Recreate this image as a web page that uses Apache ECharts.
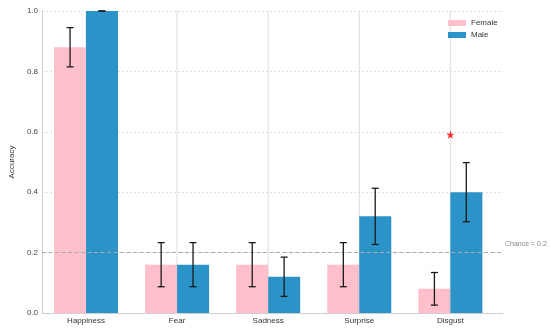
<!DOCTYPE html>
<html>
<head>
<meta charset="utf-8">
<script src="https://cdn.jsdelivr.net/npm/echarts@6/dist/echarts.min.js"></script>
<style>html,body{margin:0;padding:0;background:#fff}#c{width:550px;height:334px}</style>
</head>
<body>
<div id="c"></div>
<script>
const categories = ['Happiness', 'Fear', 'Sadness', 'Surprise', 'Disgust'];
const femaleValues = [0.88, 0.16, 0.16, 0.16, 0.08];
const maleValues = [1.0, 0.16, 0.12, 0.32, 0.40];
const femaleErrors = [0.065, 0.073, 0.073, 0.073, 0.054];
const maleErrors = [0.0, 0.073, 0.065, 0.093, 0.098];
const yTicks = [0.0, 0.2, 0.4, 0.6, 0.8, 1.0];
const chanceLevel = 0.2;
const starMarks = [[4, 0.59]];

const FEMALE_COLOR = '#ffc0cb';
const MALE_COLOR = '#2b93c8';
const FONT = 'Liberation Sans, Arial, sans-serif';

const chart = echarts.init(document.getElementById('c'), null, {renderer: 'canvas'});

function errorData(vals, errs) {
  return vals.map((v, i) => [i, v - errs[i], v + errs[i]]);
}

function errorRenderer(sign) {
  return function (params, api) {
    const idx = api.value(0);
    const lo = api.coord([idx, api.value(1)]);
    const hi = api.coord([idx, api.value(2)]);
    const band = api.size([1, 0])[0];
    const x = lo[0] + sign * band * 0.175;
    const cap = 3.5;
    const style = {stroke: '#1a1a1a', lineWidth: 1.3};
    return {
      type: 'group',
      children: [
        {type: 'line', shape: {x1: x, y1: lo[1], x2: x, y2: hi[1]}, style},
        {type: 'line', shape: {x1: x - cap, y1: lo[1], x2: x + cap, y2: lo[1]}, style},
        {type: 'line', shape: {x1: x - cap, y1: hi[1], x2: x + cap, y2: hi[1]}, style}
      ]
    };
  };
}

const option = {
  animation: false,
  backgroundColor: '#fff',
  textStyle: {fontFamily: FONT},
  legend: {
    orient: 'vertical',
    left: 443,
    top: 14,
    itemWidth: 18,
    itemHeight: 6,
    itemGap: 4,
    icon: 'rect',
    textStyle: {fontSize: 8, color: '#333', fontFamily: FONT},
    data: ['Female', 'Male']
  },
  grid: [
    {left: 34, right: 47, top: 11, bottom: 21},
    {left: 40.46, right: 54.1, top: 11, bottom: 21}
  ],
  xAxis: [
    {
      gridIndex: 0, type: 'value', min: 0, max: 1,
      axisLine: {show: true, lineStyle: {color: '#cfcfcf', width: 1}},
      axisTick: {show: false}, axisLabel: {show: false}, splitLine: {show: false}
    },
    {
      gridIndex: 1, type: 'category', data: categories,
      axisLine: {show: false}, axisTick: {show: false},
      axisLabel: {fontSize: 8, color: '#333', margin: 4, fontFamily: FONT},
      splitLine: {show: false}
    }
  ],
  yAxis: [
    {
      gridIndex: 0, type: 'value', min: 0, max: 1, interval: 0.2,
      name: 'Accuracy', nameLocation: 'middle', nameGap: 20,
      nameTextStyle: {fontSize: 8, color: '#333', fontFamily: FONT},
      axisLine: {show: true, lineStyle: {color: '#cfcfcf', width: 1}},
      axisTick: {show: false},
      axisLabel: {fontSize: 8, color: '#444', margin: 4, fontFamily: FONT,
        formatter: v => yTicks.find(t => Math.abs(t - v) < 1e-9).toFixed(1)},
      splitLine: {show: true, lineStyle: {color: '#dedede', type: [2, 2], width: 1}}
    },
    {
      gridIndex: 1, type: 'value', min: 0, max: 1, show: false
    }
  ],
  series: [
    {
      type: 'custom', name: 'vgrid', xAxisIndex: 1, yAxisIndex: 1, z: 0, silent: true,
      data: categories.map((c, i) => [i]),
      renderItem: function (params, api) {
        const idx = api.value(0);
        const b = api.coord([idx, 0]);
        const t = api.coord([idx, 1]);
        return {type: 'line', shape: {x1: b[0], y1: b[1], x2: t[0], y2: t[1]},
          style: {stroke: '#dcdcdc', lineWidth: 1}};
      }
    },
    {
      type: 'line', name: 'chance', xAxisIndex: 0, yAxisIndex: 0, data: [], silent: true,
      markLine: {
        symbol: 'none', silent: true,
        lineStyle: {color: '#aaaaaa', type: [4, 2.5], width: 1},
        label: {show: true, position: 'end', formatter: 'Chance = 0.2', fontSize: 7,
          color: '#888', fontFamily: FONT, distance: 2, offset: [0, -9]},
        data: [{yAxis: chanceLevel}]
      }
    },
    {
      type: 'bar', name: 'Female', xAxisIndex: 1, yAxisIndex: 1, z: 2,
      data: femaleValues, barWidth: 32, barGap: '0%',
      itemStyle: {color: FEMALE_COLOR}
    },
    {
      type: 'bar', name: 'Male', xAxisIndex: 1, yAxisIndex: 1, z: 2,
      data: maleValues, barWidth: 32, barGap: '0%',
      itemStyle: {color: MALE_COLOR}
    },
    {
      type: 'custom', name: 'errF', xAxisIndex: 1, yAxisIndex: 1, z: 5, silent: true,
      data: errorData(femaleValues, femaleErrors), renderItem: errorRenderer(-1)
    },
    {
      type: 'custom', name: 'errM', xAxisIndex: 1, yAxisIndex: 1, z: 5, silent: true,
      data: errorData(maleValues, maleErrors), renderItem: errorRenderer(1)
    },
    {
      type: 'scatter', name: 'star', xAxisIndex: 1, yAxisIndex: 1, z: 6, silent: true,
      data: starMarks.map(s => [s[0], s[1]]), symbol: 'path://M50,0 L61.8,35.1 L98.9,35.1 L69,57.3 L80.3,92.7 L50,71 L19.7,92.7 L31,57.3 L1.1,35.1 L38.2,35.1 Z',
      symbolSize: 8, symbolOffset: [0, 0],
      itemStyle: {color: '#ff0000'}
    }
  ]
};
chart.setOption(option);
</script>
</body>
</html>
